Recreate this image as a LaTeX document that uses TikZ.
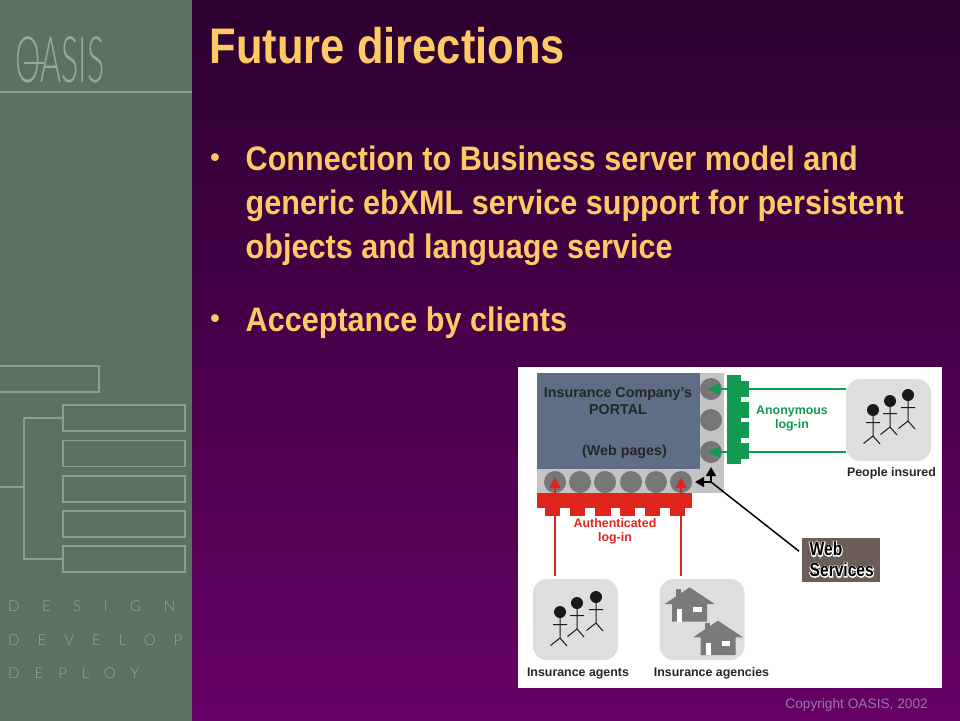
\documentclass[tikz,border=0pt]{standalone}
\usepackage{fontspec}
\setmainfont{Liberation Sans}
\newfontfamily\titlefont[FakeStretch=0.87,BoldFont={Liberation Sans Bold}]{Liberation Sans Bold}
\newfontfamily\bodyfont[FakeStretch=0.90,BoldFont={Liberation Sans Bold}]{Liberation Sans Bold}
\newfontfamily\wsfont[FakeStretch=0.82]{Liberation Sans Bold}
\newfontfamily\logofont[FakeStretch=0.5]{Lato Light}
\newfontfamily\spacedA[LetterSpace=150]{Lato Light}
\newfontfamily\spacedB[LetterSpace=120]{Lato Light}
\newfontfamily\spacedC[LetterSpace=100]{Lato Light}
\usetikzlibrary{arrows.meta}
\definecolor{bgtop}{HTML}{2C0030}
\definecolor{bgbot}{HTML}{660066}
\definecolor{panel}{HTML}{5F6F60}
\definecolor{panelline}{HTML}{8C9E8E}
\definecolor{paneltext}{HTML}{98A99A}
\definecolor{titlecol}{HTML}{FFC966}
\definecolor{slate}{HTML}{5F6E85}
\definecolor{portalgrey}{HTML}{C4C4C4}
\definecolor{dot}{HTML}{777777}
\definecolor{grn}{HTML}{0F9A4E}
\definecolor{rd}{HTML}{E0261C}
\definecolor{card}{HTML}{DEDEDE}
\definecolor{wsbox}{HTML}{6B5E58}
\definecolor{house}{HTML}{7A7A7A}
\definecolor{foot}{HTML}{9A78A2}
\tikzset{
  x=1pt,y=-1pt,
  sidebox/.style={draw=panelline,line width=1.1pt},
  sideline/.style={draw=panelline,line width=1.1pt},
  title/.style={anchor=base west,text=titlecol,font=\fontsize{50}{50}\titlefont,inner sep=0pt},
  bodyline/.style={anchor=base west,text=titlecol,font=\fontsize{34}{34}\bodyfont,inner sep=0pt},
  bul/.style={anchor=center,text=titlecol,font=\fontsize{27}{27}\selectfont\bfseries,inner sep=0pt},
  slab/.style={text=#1,font=\fontsize{12.4}{14}\selectfont\bfseries,inner sep=0pt,align=center},
  blab/.style={anchor=base,text=black!85,font=\fontsize{12.4}{14}\selectfont\bfseries,inner sep=0pt},
  portaltxt/.style={anchor=base,text=black!85,font=\fontsize{14.3}{14.3}\selectfont\bfseries,inner sep=0pt},
  wstxt/.style={anchor=base west,inner sep=0pt,font=\fontsize{19}{19}\wsfont,text=black},
  portdot/.style={circle,fill=dot,minimum size=22pt,inner sep=0pt},
  cardbox/.style={rounded corners=14pt,fill=card,inner sep=0pt},
  gline/.style={draw=grn,line width=1.6pt},
  rline/.style={draw=rd,line width=1.6pt},
  garrow/.style={gline,-{Triangle[length=12pt,width=11pt]}},
  rarrow/.style={rline,-{Triangle[length=11pt,width=11pt]}},
  barrow/.style={draw=black,line width=1.6pt,-{Triangle[length=9pt,width=10pt]}},
  side/.style={text=paneltext,anchor=west,inner sep=0pt},
}
\newcommand{\halotext}[1]{\rlap{\special{pdf:code q 1 Tr 2 w 1 1 1 RG}#1\special{pdf:code Q}}#1}
\newcommand{\stickman}[2]{%
  \fill[black!90] (#1,#2) circle[radius=6pt];
  \draw[black!90,line width=1pt] (#1,#2) -- ++(0,26) ++(-7,-13.5) -- ++(14,0)
    (#1-9.5,#2+33.5) -- (#1,#2+26) -- (#1+7,#2+34);}
\newcommand{\housepic}[2]{%
  \fill[house] (#1-13.3,#2+2) rectangle (#1-8.3,#2+12);
  \fill[house] (#1,#2) -- (#1+25,#2+16.7) -- (#1+17.5,#2+16.7) -- (#1+17.5,#2+34.3)
     -- (#1-17.5,#2+34.3) -- (#1-17.5,#2+16.7) -- (#1-25,#2+16.7) -- cycle;
  \fill[white] (#1-12.3,#2+22) rectangle (#1-7.3,#2+34.3);
  \fill[white] (#1+3.7,#2+20) rectangle (#1+12,#2+25);}
\begin{document}
\begin{tikzpicture}
\useasboundingbox (0,0) rectangle (960,720);
% background
\shade[top color=bgtop,bottom color=bgbot] (0,0) rectangle (960,722);
\fill[panel] (0,0) rectangle (192,722);
% sidebar art
\draw[sideline] (0,92) -- (192,92);
\node[anchor=center,inner sep=0pt,text=paneltext,font=\fontsize{64}{64}\logofont] (logo) at (60,60) {OASIS};
\draw[draw=paneltext,line width=1.1pt] (23.5,63) -- (43.5,63);
\draw[sidebox] (-2,366) -- (99,366) -- (99,392) -- (-2,392);
\node[sidebox,minimum width=122pt,minimum height=26pt,inner sep=0pt] (b1) at (124,418) {};
\node[sidebox,minimum width=122pt,minimum height=26pt,inner sep=0pt] (b2) at (124,453.5) {};
\node[sidebox,minimum width=122pt,minimum height=26pt,inner sep=0pt] (b3) at (124,489) {};
\node[sidebox,minimum width=122pt,minimum height=26pt,inner sep=0pt] (b4) at (124,524) {};
\node[sidebox,minimum width=122pt,minimum height=26pt,inner sep=0pt] (b5) at (124,559) {};
\coordinate (stem) at (0,487);
\coordinate (spine) at (24,487);
\draw[sideline] (stem) -- (spine);
\draw[sideline] (b1.west) -| (spine) |- (b5.west);
\node[side,font=\fontsize{15}{15}\spacedA] (s1) at (8,606) {DESIGN};
\node[side,font=\fontsize{15}{15}\spacedB] (s2) at (8,640) {DEVELOP};
\node[side,font=\fontsize{15}{15}\spacedC] (s3) at (8,673) {DEPLOY};
% text
\node[title] (t) at (209.5,63) {Future directions};
\node[bul] (u1) at (215,160.5) {•};
\node[bodyline] (l1) at (245.5,170) {Connection to Business server model and};
\node[bodyline] (l2) at (245.5,214) {generic ebXML service support for persistent};
\node[bodyline] (l3) at (245.5,258.5) {objects and language service};
\node[bul] (u2) at (215,321.5) {•};
\node[bodyline] (l4) at (245.5,331) {Acceptance by clients};
\node[anchor=east,inner sep=0pt,text=foot,font=\fontsize{13.7}{13.7}\selectfont] (c) at (928,705) {Copyright OASIS, 2002};
% diagram
\fill[white] (518,367) rectangle (942,688);
\fill[portalgrey] (537,373) rectangle (724,493);
\fill[slate] (537,373) rectangle (699.5,469);
\node[portaltxt] (p1) at (618,397.5) {Insurance Company's};
\node[portaltxt] (p2) at (618,414) {PORTAL};
\node[portaltxt] (p3) at (624.5,455) {(Web pages)};
\node[portdot] (r1) at (711,389) {};
\node[portdot] (r2) at (711,420) {};
\node[portdot] (r3) at (711,452) {};
\node[portdot] (d1) at (555,482) {};
\node[portdot] (d2) at (580,482) {};
\node[portdot] (d3) at (605,482) {};
\node[portdot] (d4) at (631,482) {};
\node[portdot] (d5) at (656,482) {};
\node[portdot] (d6) at (681,482) {};
% green comb
\fill[grn] (727,375) rectangle (741,464);
\foreach \a/\b in {381/397,402/418,422/438,443/459} \fill[grn] (740,\a) rectangle (749,\b);
% red comb
\fill[rd] (537,493) rectangle (692,508);
\foreach \a/\b in {545/560,570/585,595/611,620/635,645/660,670/685} \fill[rd] (\a,507) rectangle (\b,516);
% cards
\node[cardbox,minimum width=85pt,minimum height=82pt] (ins) at (888.5,420) {};
\node[cardbox,minimum width=85pt,minimum height=81pt] (ag) at (575.5,619.5) {};
\node[cardbox,minimum width=85pt,minimum height=81pt] (agc) at (702,619.5) {};
\stickman{873}{410}\stickman{890}{401}\stickman{908}{395}
\stickman{560}{612}\stickman{577}{603}\stickman{596}{597}
\housepic{689.7}{587.3}\housepic{718}{620.7}
\node[blab] (li) at (891.5,476) {People insured};
\node[blab] (la) at (578,676) {Insurance agents};
\node[blab] (lc) at (711.5,676) {Insurance agencies};
\node[slab=grn] (an) at (792,419) {Anonymous\\log-in};
\node[slab=rd] (au) at (615,531) {Authenticated\\log-in};
% connectors
\coordinate (g1) at (ins.west |- r1);
\coordinate (g3) at (ins.west |- r3);
\draw[garrow] (g1) -- ([xshift=-3pt]r1.center);
\draw[garrow] (g3) -- ([xshift=-3pt]r3.center);
\coordinate (a1) at (d1 |- ag.north);
\coordinate (a2) at (d6 |- agc.north);
\draw[rarrow] ([yshift=3pt]a1) -- ([yshift=5pt]d1.center);
\draw[rarrow] ([yshift=3pt]a2) -- ([yshift=5pt]d6.center);
% web services
\node[anchor=north west,fill=wsbox,minimum width=78pt,minimum height=44pt,inner sep=0pt] (ws) at (802,538) {};
\node[wstxt] (wst1) at (809.5,555.7) {\halotext{Web}};
\node[wstxt] (wst2) at (809.5,576.7) {\halotext{Services}};
\coordinate (hub) at (711,482);
\draw[draw=black,line width=1.5pt] ([shift={(-3pt,9pt)}]ws.west) -- (hub);
\draw[barrow] (hub) -- (695,482);
\draw[barrow] (hub) -- (711,467);
\end{tikzpicture}
\end{document}
